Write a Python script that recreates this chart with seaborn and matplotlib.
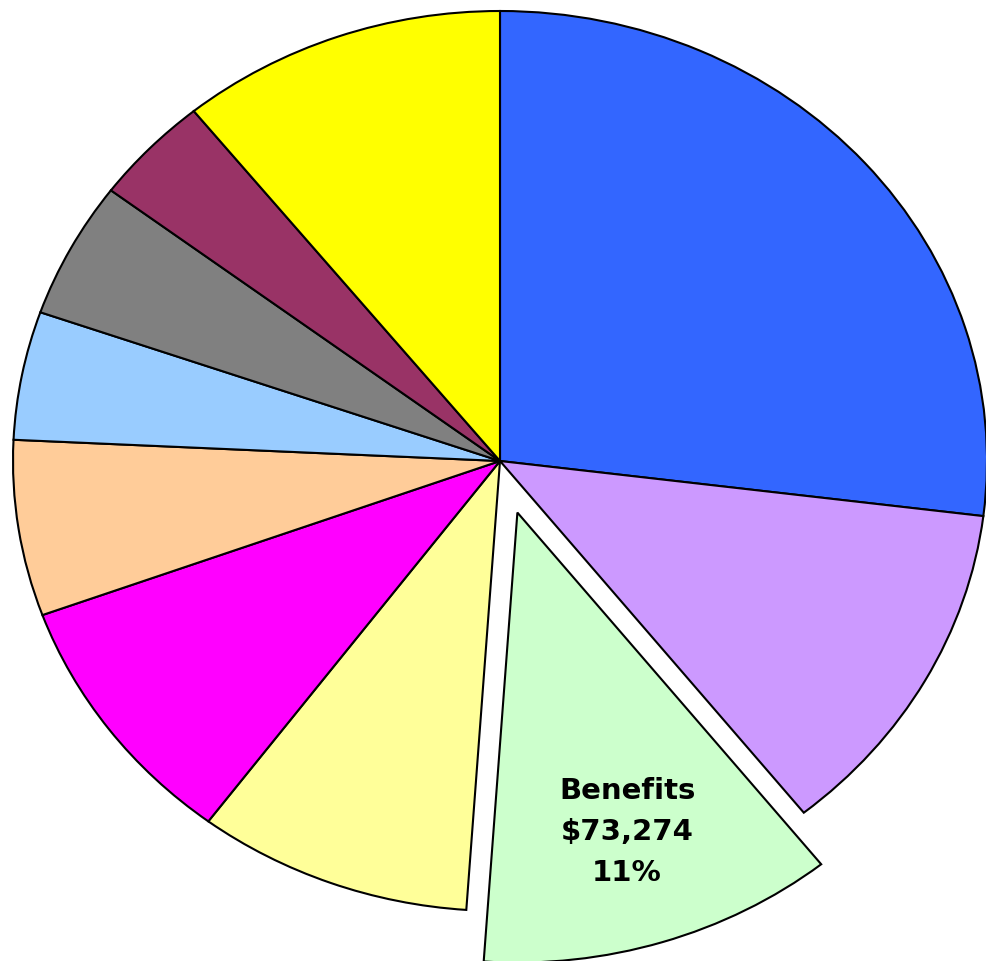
import matplotlib
matplotlib.use("Agg")
import matplotlib.pyplot as plt
import seaborn as sns

sns.set_theme(style="white")
plt.rcParams['font.family'] = ['DejaVu Sans']

categories = ["Category A", "Category B", "Benefits", "Category D", "Category E",
              "Category F", "Category G", "Category H", "Category I", "Category J"]
shares = [26.9, 12.3, 11.8, 9.1, 9.2, 6.3, 4.6, 4.9, 3.9, 10.8]
colors = ["#3366FF", "#CC99FF", "#CCFFCC", "#FFFF99", "#FF00FF",
          "#FFCC99", "#99CCFF", "#808080", "#993366", "#FFFF00"]
explode = [0, 0, 0.12, 0, 0, 0, 0, 0, 0, 0]
label_lines = ["Benefits", "$73,274", "11%"]

palette = sns.color_palette(colors)

fig = plt.figure(figsize=(9.86, 9.62), dpi=100)
ax = fig.add_axes([0, 0, 1, 1])
wedges, _ = ax.pie(shares, colors=palette, explode=explode, startangle=90,
                   counterclock=False,
                   wedgeprops=dict(edgecolor="black", linewidth=1.5))
ax.set_aspect('auto')
rx, ry = 487.0, 450.0
cx, cy = 500.0, 962.0 - 462.0
ax.set_xlim(-cx / rx, (986 - cx) / rx)
ax.set_ylim(-cy / ry, (962 - cy) / ry)
ax.axis('off')

ax.text(0.261, -0.822, "\n".join(label_lines), ha="center", va="center",
        fontsize=21, fontweight="bold", color="black", linespacing=1.6)

fig.savefig("out.png", dpi=100, facecolor="white")
